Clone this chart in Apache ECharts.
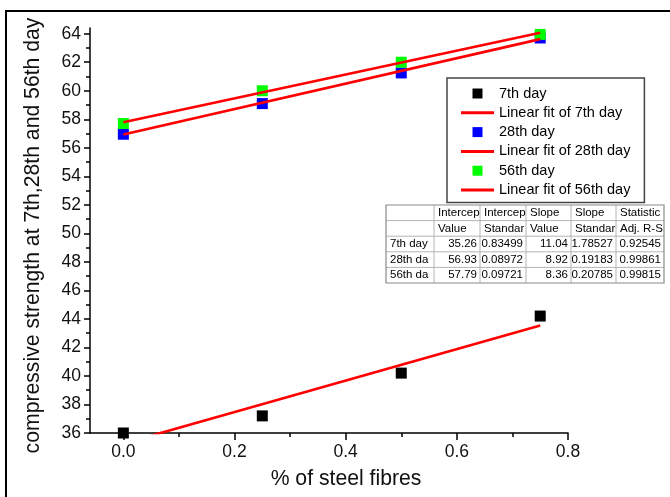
<!DOCTYPE html>
<html>
<head>
<meta charset="utf-8">
<script src="https://cdn.jsdelivr.net/npm/echarts@6/dist/echarts.min.js"></script>
<style>
  html, body { margin: 0; padding: 0; background: #fff; }
  #chart { width: 670px; height: 497px; }
</style>
</head>
<body>
<div id="chart"></div>
<script>
// Steel fibre content (%)
const fibre = [0, 0.25, 0.5, 0.75];

// Compressive strength per curing age
const day7 = [36.0, 37.2, 40.2, 44.2];
const day28 = [56.95, 59.1, 61.25, 63.7];
const day56 = [57.7, 60.0, 62.0, 63.95];

// Axis ticks
const xTicks = [0, 0.2, 0.4, 0.6, 0.8];
const xMinorTicks = [0.1, 0.3, 0.5, 0.7];
const yTicks = [36, 38, 40, 42, 44, 46, 48, 50, 52, 54, 56, 58, 60, 62, 64];
const yMinorTicks = [37, 39, 41, 43, 45, 47, 49, 51, 53, 55, 57, 59, 61, 63];

// Linear fit results
const fitRows = ['7th day', '28th da', '56th da'];
const intercept = [35.26, 56.93, 57.79];
const interceptErr = ['0.83499', '0.08972', '0.09721'];
const slope = [11.04, 8.92, 8.36];
const slopeErr = ['1.78527', '0.19183', '0.20785'];
const adjR2 = ['0.92545', '0.99861', '0.99815'];
const fitRange = [0, 0.75];

const FONT = '"Liberation Sans", Arial, sans-serif';
const X_MIN = -0.06, X_MAX = 0.8, Y_MIN = 36, Y_MAX = 64.4;

function fitLine(i) {
  return fitRange.map(x => [x, intercept[i] + slope[i] * x]);
}
function pairs(ys) {
  return fibre.map((x, i) => [x, ys[i]]);
}

const SQUARE = 'path://M0,0h10v10h-10z';
const BAR = 'path://M0,0h33v3h-33z';

// Fit statistics table
function buildTable() {
  const left = 386, top = 205;
  const cols = [0, 48, 94, 140, 185, 230, 278];
  const rowH = 15.6;
  const nRows = 5;
  const children = [];
  const W = cols[cols.length - 1], H = rowH * nRows;
  for (let r = 1; r < nRows; r++) {
    children.push({ type: 'line', shape: { x1: 0, y1: r * rowH, x2: W, y2: r * rowH },
      style: { stroke: '#b4b4b4', lineWidth: 1 } });
  }
  for (let c = 1; c < cols.length - 1; c++) {
    children.push({ type: 'line', shape: { x1: cols[c], y1: 0, x2: cols[c], y2: H },
      style: { stroke: '#b4b4b4', lineWidth: 1 } });
  }
  children.push({ type: 'rect', shape: { x: 0, y: 0, width: W, height: H },
    style: { fill: 'none', stroke: '#8a8a8a', lineWidth: 1.2 } });

  const head1 = ['Intercep', 'Intercep', 'Slope', 'Slope', 'Statistic'];
  const head2 = ['Value', 'Standar', 'Value', 'Standar', 'Adj. R-S'];
  const txt = (s, x, y, align) => ({
    type: 'text', x: x, y: y,
    style: { text: s, fill: '#000', font: '11.5px ' + FONT, align: align, verticalAlign: 'middle' }
  });
  head1.forEach((s, c) => children.push(txt(s, cols[c + 1] + 4, rowH * 0.5, 'left')));
  head2.forEach((s, c) => children.push(txt(s, cols[c + 1] + 4, rowH * 1.5, 'left')));
  fitRows.forEach((name, r) => {
    const y = rowH * (r + 2.5);
    const vals = [intercept[r].toFixed(2), interceptErr[r], slope[r].toFixed(2), slopeErr[r], adjR2[r]];
    children.push(txt(name, 4, y, 'left'));
    vals.forEach((v, c) => children.push(txt(v, cols[c + 2] - 3, y, 'right')));
  });
  return { type: 'group', x: left, y: top, children: children };
}

const chart = echarts.init(document.getElementById('chart'), null, { renderer: 'canvas' });

const tickLabelStyle = { fontFamily: FONT, fontSize: 17.5, color: '#111' };
const axisLineStyle = { color: '#000', width: 1.5 };

chart.setOption({
  animation: false,
  backgroundColor: '#fff',
  textStyle: { fontFamily: FONT },
  grid: { left: 90, right: 102, top: 28, bottom: 64, containLabel: false },
  xAxis: [
    {
      type: 'value', min: X_MIN, max: X_MAX, position: 'bottom',
      name: '% of steel fibres', nameLocation: 'middle', nameGap: 36,
      nameTextStyle: { fontFamily: FONT, fontSize: 21.2, color: '#111', padding: [0, 0, 0, 34] },
      axisLine: { show: true, onZero: false, lineStyle: axisLineStyle },
      axisTick: { show: true, inside: false, length: 7, customValues: xTicks, lineStyle: { color: '#000', width: 1.5 } },
      axisLabel: { customValues: xTicks, margin: 10, formatter: v => v.toFixed(1), ...tickLabelStyle },
      splitLine: { show: false }
    },
    {
      type: 'value', min: X_MIN, max: X_MAX, position: 'bottom',
      axisLine: { show: false, onZero: false },
      axisTick: { show: true, inside: false, length: 4, customValues: xMinorTicks, lineStyle: { color: '#000', width: 1.5 } },
      axisLabel: { show: false },
      splitLine: { show: false }
    }
  ],
  yAxis: [
    {
      type: 'value', min: Y_MIN, max: Y_MAX, position: 'left',
      name: 'compressive strength at 7th,28th and 56th day', nameLocation: 'middle', nameGap: 46,
      nameTextStyle: { fontFamily: FONT, fontSize: 21.2, color: '#111', padding: [0, 10, 0, 0] },
      axisLine: { show: true, onZero: false, lineStyle: axisLineStyle },
      axisTick: { show: true, inside: false, length: 6, customValues: yTicks, lineStyle: { color: '#000', width: 1.5 } },
      axisLabel: { customValues: yTicks, margin: 9, ...tickLabelStyle },
      splitLine: { show: false }
    },
    {
      type: 'value', min: Y_MIN, max: Y_MAX, position: 'left',
      axisLine: { show: false, onZero: false },
      axisTick: { show: true, inside: false, length: 4, customValues: yMinorTicks, lineStyle: { color: '#000', width: 1.5 } },
      axisLabel: { show: false },
      splitLine: { show: false }
    }
  ],
  legend: {
    orient: 'vertical', left: 447, top: 78,
    padding: [8, 14, 5, 14],
    borderColor: '#444', borderWidth: 1.5, backgroundColor: '#fff',
    itemWidth: 33, itemHeight: 10, itemGap: 4.3,
    selectedMode: false,
    itemStyle: { borderWidth: 0 },
    textStyle: { fontFamily: FONT, fontSize: 14.5, color: '#000' },
    data: [
      { name: '7th day', icon: SQUARE },
      { name: 'Linear fit of 7th day', icon: BAR },
      { name: '28th day', icon: SQUARE },
      { name: 'Linear fit of 28th day', icon: BAR },
      { name: '56th day', icon: SQUARE },
      { name: 'Linear fit of 56th day', icon: BAR }
    ]
  },
  graphic: [
    { type: 'polyline', shape: { points: [[6, 497], [6, 11], [670, 11]] },
      style: { stroke: '#000', lineWidth: 2, fill: 'none' }, silent: true },
    buildTable()
  ],
  series: [
    { name: '7th day', type: 'scatter', data: pairs(day7), symbol: 'rect', symbolSize: 11,
      itemStyle: { color: '#000000', opacity: 1 }, z: 2 },
    { name: 'Linear fit of 7th day', type: 'line', data: fitLine(0), symbol: 'none', showSymbol: false,
      lineStyle: { color: '#ff0000', width: 2.6 }, itemStyle: { color: '#ff0000' }, clip: true, z: 4 },
    { name: '28th day', type: 'scatter', data: pairs(day28), symbol: 'rect', symbolSize: 11,
      itemStyle: { color: '#0000ff', opacity: 1 }, z: 2 },
    { name: 'Linear fit of 28th day', type: 'line', data: fitLine(1), symbol: 'none', showSymbol: false,
      lineStyle: { color: '#ff0000', width: 2.6 }, itemStyle: { color: '#ff0000' }, clip: true, z: 4 },
    { name: '56th day', type: 'scatter', data: pairs(day56), symbol: 'rect', symbolSize: 11,
      itemStyle: { color: '#00ff00', opacity: 1 }, z: 3 },
    { name: 'Linear fit of 56th day', type: 'line', data: fitLine(2), symbol: 'none', showSymbol: false,
      lineStyle: { color: '#ff0000', width: 2.6 }, itemStyle: { color: '#ff0000' }, clip: true, z: 4 }
  ]
});
</script>
</body>
</html>
